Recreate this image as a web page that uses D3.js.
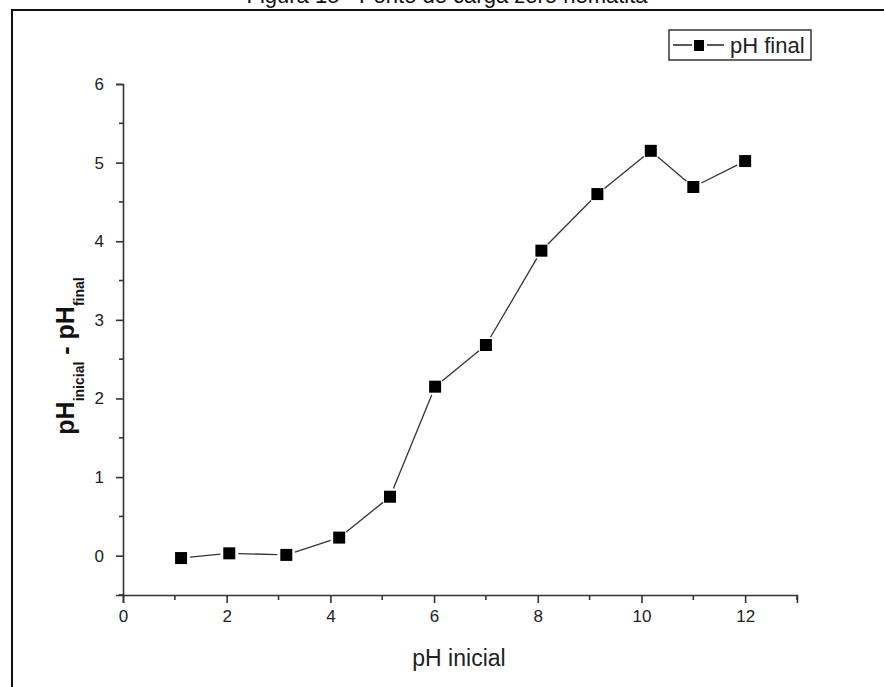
<!DOCTYPE html>
<html>
<head>
<meta charset="utf-8">
<script src="https://cdn.jsdelivr.net/npm/d3@7"></script>
<style>
  body { margin: 0; background: #fff; }
  svg { display: block; font-family: "Liberation Sans", Arial, sans-serif; }
</style>
</head>
<body>
<div id="chart"></div>
<script>
var W = 884, H = 687;

// data
var phInicial = [1.12, 2.05, 3.15, 4.17, 5.15, 6.02, 7.0, 8.07, 9.15, 10.18, 11.0, 12.0];
var phDiff = [-0.03, 0.03, 0.01, 0.23, 0.75, 2.15, 2.68, 3.88, 4.6, 5.15, 4.69, 5.02];
var xTicks = [0, 2, 4, 6, 8, 10, 12];
var xMinor = [1, 3, 5, 7, 9, 11, 13];
var yTicks = [0, 1, 2, 3, 4, 5, 6];
var yMinor = [-0.5, 0.5, 1.5, 2.5, 3.5, 4.5, 5.5];

var margin = {left: 123, right: 87, top: 84, bottom: 92};

var svg = d3.select('#chart').append('svg')
  .attr('width', W)
  .attr('height', H);

var xScale = d3.scaleLinear().domain([0, 13]).range([margin.left, W - margin.right]);
var yScale = d3.scaleLinear().domain([-0.5, 6]).range([H - margin.bottom, margin.top]);

// title, cropped at top as in the source
svg.append('text')
  .attr('x', 447)
  .attr('y', 3)
  .attr('text-anchor', 'middle')
  .attr('font-size', 22)
  .attr('fill', '#111')
  .text('Figura 15 - Ponto de carga zero hematita');

// outer frame
svg.append('rect')
  .attr('x', 12)
  .attr('y', 10)
  .attr('width', 900)
  .attr('height', 700)
  .attr('fill', 'none')
  .attr('stroke', '#111')
  .attr('stroke-width', 2);

var axisColor = '#333';

// x axis
var xAxis = d3.axisBottom(xScale)
  .tickValues(xTicks)
  .tickSize(8)
  .tickPadding(7)
  .tickFormat(d3.format('d'));

var gx = svg.append('g')
  .attr('transform', 'translate(0,' + yScale(-0.5) + ')')
  .call(xAxis);

gx.selectAll('.minor').data(xMinor).enter().append('line')
  .attr('class', 'minor')
  .attr('x1', function(d) { return xScale(d); })
  .attr('x2', function(d) { return xScale(d); })
  .attr('y1', 0).attr('y2', 5);

// y axis
var yAxis = d3.axisLeft(yScale)
  .tickValues(yTicks)
  .tickSize(7)
  .tickPadding(12)
  .tickFormat(d3.format('d'));

var gy = svg.append('g')
  .attr('transform', 'translate(' + xScale(0) + ',0)')
  .call(yAxis);

gy.selectAll('.minor').data(yMinor).enter().append('line')
  .attr('class', 'minor')
  .attr('y1', function(d) { return yScale(d); })
  .attr('y2', function(d) { return yScale(d); })
  .attr('x1', 0).attr('x2', -4);

[gx, gy].forEach(function(g) {
  g.attr('font-size', 17).attr('font-family', '"Liberation Sans", Arial, sans-serif');
  g.select('.domain').attr('stroke', axisColor).attr('stroke-width', 1.6);
  g.selectAll('.tick line, .minor').attr('stroke', axisColor).attr('stroke-width', 1.6);
  g.selectAll('.tick text').attr('fill', '#222');
});

// axis titles
svg.append('text')
  .attr('x', 459)
  .attr('y', 666)
  .attr('text-anchor', 'middle')
  .attr('font-size', 23)
  .attr('fill', '#222')
  .text('pH inicial');

var yTitle = svg.append('text')
  .attr('transform', 'translate(74,356) rotate(-90)')
  .attr('text-anchor', 'middle')
  .attr('font-size', 25)
  .attr('font-weight', 'bold')
  .attr('fill', '#111');
yTitle.append('tspan').text('pH');
yTitle.append('tspan').attr('font-size', 14).attr('dy', 10).text('inicial');
yTitle.append('tspan').attr('dy', -10).text(' - pH');
yTitle.append('tspan').attr('font-size', 14).attr('dy', 10).text('final');

// data line, stopping short of the markers
var pts = phInicial.map(function(x, i) { return [xScale(x), yScale(phDiff[i])]; });
var gap = 9;
var segs = [];
for (var i = 0; i < pts.length - 1; i++) {
  var a = pts[i], b = pts[i + 1];
  var dx = b[0] - a[0], dy = b[1] - a[1], len = Math.sqrt(dx * dx + dy * dy);
  var ux = dx / len, uy = dy / len;
  segs.push([a[0] + ux * gap, a[1] + uy * gap, b[0] - ux * gap, b[1] - uy * gap]);
}
svg.append('g').selectAll('line').data(segs).enter().append('line')
  .attr('x1', function(d) { return d[0]; })
  .attr('y1', function(d) { return d[1]; })
  .attr('x2', function(d) { return d[2]; })
  .attr('y2', function(d) { return d[3]; })
  .attr('stroke', '#333')
  .attr('stroke-width', 1.3);

var ms = 12;
svg.append('g').selectAll('rect').data(pts).enter().append('rect')
  .attr('x', function(d) { return d[0] - ms / 2; })
  .attr('y', function(d) { return d[1] - ms / 2; })
  .attr('width', ms)
  .attr('height', ms)
  .attr('fill', '#000');

// legend
var lg = svg.append('g').attr('transform', 'translate(669,30)');
lg.append('rect')
  .attr('width', 142)
  .attr('height', 30)
  .attr('fill', '#fff')
  .attr('stroke', '#333')
  .attr('stroke-width', 1.5);
lg.append('line').attr('x1', 4).attr('x2', 23).attr('y1', 15).attr('y2', 15)
  .attr('stroke', '#222').attr('stroke-width', 1.5);
lg.append('line').attr('x1', 38).attr('x2', 55).attr('y1', 15).attr('y2', 15)
  .attr('stroke', '#222').attr('stroke-width', 1.5);
lg.append('rect').attr('x', 25).attr('y', 10).attr('width', 10).attr('height', 11).attr('fill', '#000');
lg.append('text')
  .attr('x', 61)
  .attr('y', 23)
  .attr('font-size', 22)
  .attr('fill', '#222')
  .text('pH final');
</script>
</body>
</html>
